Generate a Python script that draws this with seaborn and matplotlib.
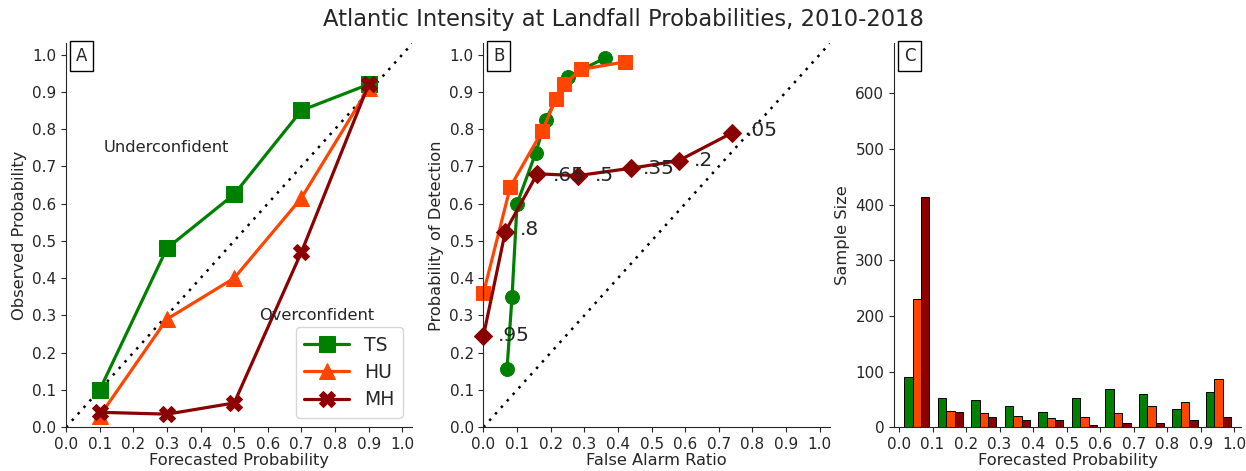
import numpy as np
import pandas as pd
import matplotlib
matplotlib.use("Agg")
import matplotlib.pyplot as plt
import seaborn as sns

sns.set_style("ticks")
plt.rcParams["font.family"] = ["DejaVu Sans"]

COLORS = {"TS": "#008000", "HU": "#ff4500", "MH": "#8b0000"}

# Panel A: reliability
fcst_bins = [0.1, 0.3, 0.5, 0.7, 0.9]
obs_ts = [0.10, 0.48, 0.625, 0.85, 0.92]
obs_hu = [0.03, 0.29, 0.40, 0.615, 0.91]
obs_mh = [0.04, 0.035, 0.065, 0.47, 0.92]

# Panel B: performance (FAR vs POD)
far_ts = [0.07, 0.085, 0.10, 0.155, 0.185, 0.25, 0.36]
pod_ts = [0.155, 0.35, 0.60, 0.735, 0.825, 0.94, 0.99]
far_hu = [0.0, 0.08, 0.175, 0.215, 0.24, 0.29, 0.42]
pod_hu = [0.36, 0.645, 0.795, 0.88, 0.92, 0.96, 0.98]
far_mh = [0.0, 0.065, 0.16, 0.28, 0.44, 0.58, 0.74]
pod_mh = [0.245, 0.525, 0.68, 0.675, 0.695, 0.715, 0.79]
thresh_labels = [".95", ".8", ".65", ".5", ".35", ".2", ".05"]
thresh_x = [0.042, 0.107, 0.205, 0.33, 0.475, 0.625, 0.78]
thresh_y = [0.245, 0.53, 0.675, 0.675, 0.695, 0.715, 0.795]

# Panel C: sample size per forecast bin
bin_starts = [0.0, 0.1, 0.2, 0.3, 0.4, 0.5, 0.6, 0.7, 0.8, 0.9]
n_ts = [90, 52, 48, 39, 27, 52, 68, 60, 32, 63]
n_hu = [230, 30, 25, 21, 17, 19, 25, 38, 46, 86]
n_mh = [413, 27, 19, 13, 13, 4, 8, 8, 13, 19]

fig = plt.figure(figsize=(12.46, 4.71), dpi=100)
axA = fig.add_axes([0.053, 0.093, 0.278, 0.815])
axB = fig.add_axes([0.388, 0.093, 0.278, 0.815])
axC = fig.add_axes([0.7175, 0.093, 0.2785, 0.815])

tick_fs = 11
lab_fs = 11.7

# ---- A
axA.plot([0, 1.03], [0, 1.03], ls=(0, (1, 2.5)), color="black", lw=1.8, zorder=1)
for name, obs, mk, ms in [("TS", obs_ts, "s", 11), ("HU", obs_hu, "^", 11), ("MH", obs_mh, "X", 11)]:
    sns.lineplot(x=fcst_bins, y=obs, ax=axA, color=COLORS[name], marker=mk,
                 markersize=ms, markeredgecolor=COLORS[name], lw=2.3,
                 label=name, sort=False, errorbar=None)
axA.text(0.113, 0.75, "Underconfident", fontsize=11.7, va="center")
axA.text(0.575, 0.30, "Overconfident", fontsize=11.7, va="center")
axA.legend(loc="lower right", fontsize=13.5, handlelength=2.4, borderpad=0.45,
           labelspacing=0.45, frameon=True)
axA.set_xlabel("Forecasted Probability", fontsize=lab_fs)
axA.set_ylabel("Observed Probability", fontsize=lab_fs)

# ---- B
axB.plot([0, 1.03], [0, 1.03], ls=(0, (1, 2.5)), color="black", lw=1.8, zorder=1)
for name, fx, py, mk, ms in [("TS", far_ts, pod_ts, "o", 10),
                             ("HU", far_hu, pod_hu, "s", 10),
                             ("MH", far_mh, pod_mh, "D", 9)]:
    sns.lineplot(x=fx, y=py, ax=axB, color=COLORS[name], marker=mk,
                 markersize=ms, markeredgecolor=COLORS[name], lw=2.3,
                 sort=False, errorbar=None, clip_on=False)
for lab, tx, ty in zip(thresh_labels, thresh_x, thresh_y):
    axB.text(tx, ty, lab, fontsize=14.5, va="center", ha="left")
axB.set_xlabel("False Alarm Ratio", fontsize=lab_fs)
axB.set_ylabel("Probability of Detection", fontsize=lab_fs)

for ax in (axA, axB):
    ax.set_xlim(0, 1.03)
    ax.set_ylim(0, 1.03)
    ax.set_xticks(np.arange(0, 1.01, 0.1))
    ax.set_yticks(np.arange(0, 1.01, 0.1))
    ax.xaxis.set_major_formatter(matplotlib.ticker.FormatStrFormatter("%.1f"))
    ax.yaxis.set_major_formatter(matplotlib.ticker.FormatStrFormatter("%.1f"))

# ---- C
centers = [b + 0.053 for b in bin_starts]
df = pd.DataFrame({
    "x": centers * 3,
    "n": n_ts + n_hu + n_mh,
    "cat": ["TS"] * 10 + ["HU"] * 10 + ["MH"] * 10,
})
sns.barplot(data=df, x="x", y="n", hue="cat", palette=COLORS, native_scale=True,
            width=0.75, errorbar=None, edgecolor="black", linewidth=0.7,
            saturation=1, ax=axC, legend=False)
axC.set_xlim(-0.015, 1.02)
axC.set_ylim(0, 690)
axC.set_xticks(np.arange(0, 1.01, 0.1))
axC.xaxis.set_major_formatter(matplotlib.ticker.FormatStrFormatter("%.1f"))
axC.set_yticks(np.arange(0, 601, 100))
axC.set_xlabel("Forecasted Probability", fontsize=lab_fs)
axC.set_ylabel("Sample Size", fontsize=lab_fs)

for ax, lab in zip((axA, axB, axC), "ABC"):
    sns.despine(ax=ax)
    ax.tick_params(labelsize=tick_fs, length=3.5)
    ax.xaxis.labelpad = 1
    ax.text(0.028, 0.99, lab, transform=ax.transAxes, fontsize=12, ha="left", va="top",
            bbox=dict(boxstyle="square,pad=0.35", fc="white", ec="black", lw=1))

fig.suptitle("Atlantic Intensity at Landfall Probabilities, 2010-2018", fontsize=16.3, y=0.983)

fig.savefig("out.png", dpi=100)
